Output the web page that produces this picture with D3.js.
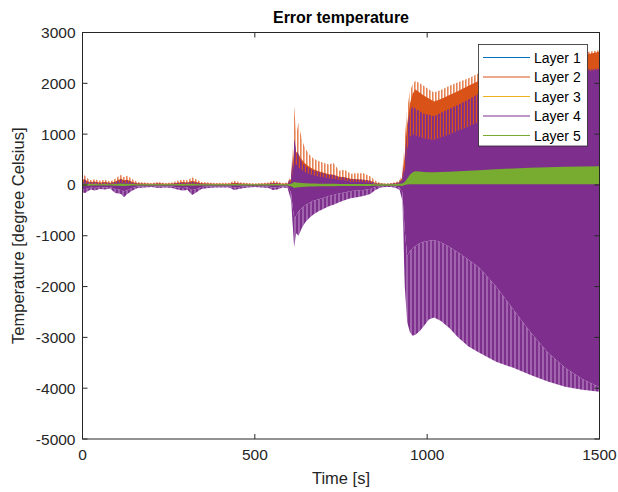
<!DOCTYPE html>
<html><head><meta charset="utf-8">
<script src="https://cdn.jsdelivr.net/npm/d3@7"></script>
<style>body{margin:0;background:#fff}svg{display:block}text{font-family:"Liberation Sans",Arial,sans-serif}</style>
</head><body><svg id="c" width="618" height="492"></svg>
<script>
// ---- data (envelopes) ----
const time = [0,8,16,25,35,50,65,80,95,105,112,120,130,145,160,180,200,220,240,260,275,290,305,318,330,345,365,385,405,425,440,460,480,500,520,540,552,565,580,595,
 605,610,614,620,627,636,646,658,670,685,700,715,728,745,760,778,796,815,835,850,865,880,895,910,920,
 928,935,942,950,958,966,978,990,1005,1020,1040,1065,1090,1120,1150,1200,1250,1300,1350,1400,1450,1500];
const orangeTip = [200,180,120,90,110,80,100,70,120,170,200,150,180,110,60,50,40,60,40,50,80,100,90,150,110,60,50,40,45,40,80,50,40,35,40,50,80,70,40,50,
 200,700,1550,1000,1230,900,720,600,520,470,430,400,430,280,300,220,230,230,170,80,40,30,40,60,90,
 250,900,1500,1850,1980,2050,2000,1950,1880,1820,1870,1950,2020,2100,2200,2290,2370,2440,2500,2550,2600,2650];
const orangeHi = [110,100,70,60,70,50,60,45,70,100,120,90,100,60,35,30,25,35,25,30,45,60,50,80,60,35,30,25,25,25,45,30,25,20,25,30,45,40,25,30,
 120,400,750,650,600,500,420,360,310,270,240,210,200,160,150,120,110,100,80,40,25,20,25,40,60,
 150,600,1200,1600,1800,1880,1820,1760,1700,1640,1690,1770,1850,1950,2050,2180,2280,2360,2430,2490,2550,2620];
const purpleHiTip = [120,100,60,50,60,40,50,40,60,90,110,80,90,50,30,25,20,30,20,25,40,50,45,70,50,30,25,20,20,20,35,25,20,20,20,25,40,35,20,25,
 150,500,900,700,600,450,380,330,290,260,230,200,200,150,150,110,110,100,80,40,25,20,25,40,60,
 150,500,1100,1450,1550,1500,1450,1400,1380,1350,1420,1500,1580,1680,1800,1950,2060,2130,2190,2230,2260,2290];
const purpleHi = [50,45,30,25,30,20,25,20,30,45,55,40,45,25,15,12,10,15,10,12,20,25,22,35,25,15,12,10,10,10,18,12,10,10,10,12,20,18,10,12,
 60,250,450,400,350,300,250,220,190,170,150,130,120,100,90,70,65,60,45,25,15,12,15,25,40,
 100,300,700,950,1000,980,950,920,900,890,940,1000,1070,1150,1250,1500,1750,1950,2080,2170,2230,2270];
const purpleLo = [-90,-80,-70,-50,-60,-40,-50,-40,-80,-90,-100,-130,-100,-60,-30,-25,-20,-30,-25,-30,-50,-60,-50,-100,-80,-40,-30,-25,-25,-25,-50,-35,-25,-20,-25,-30,-50,-45,-25,-30,
 -150,-450,-650,-600,-520,-460,-400,-350,-310,-280,-250,-220,-200,-170,-150,-120,-110,-100,-80,-40,-25,-20,-20,-30,-50,
 -150,-900,-1400,-1300,-1250,-1200,-1150,-1120,-1100,-1090,-1130,-1220,-1330,-1470,-1620,-2000,-2450,-2900,-3300,-3600,-3820,-3980];
const purpleTip = [-150,-160,-120,-90,-110,-80,-90,-70,-160,-170,-180,-240,-180,-110,-60,-50,-40,-60,-50,-60,-90,-110,-100,-200,-150,-80,-60,-50,-50,-50,-100,-70,-50,-40,-50,-60,-100,-90,-50,-60,
 -300,-800,-1230,-950,-1000,-850,-740,-650,-580,-520,-470,-420,-390,-340,-300,-260,-240,-220,-180,-100,-50,-40,-40,-60,-100,
 -300,-2000,-2700,-2900,-2970,-2950,-2880,-2780,-2650,-2610,-2680,-2820,-3000,-3180,-3300,-3480,-3600,-3740,-3870,-3970,-4030,-4070];
const greenHi = [25,25,20,20,20,15,20,15,20,25,30,25,25,20,15,15,15,15,15,15,20,20,20,25,20,15,15,15,15,15,20,15,15,15,15,15,20,20,15,15,
 25,40,60,50,45,40,35,30,30,25,25,25,25,20,20,20,20,20,20,15,15,15,15,20,25,
 30,60,120,200,250,270,265,255,250,250,255,260,270,280,290,310,325,340,350,360,365,370];
const greenLo = [-15,-15,-15,-12,-12,-10,-12,-10,-15,-15,-20,-20,-15,-12,-10,-10,-10,-10,-10,-10,-12,-15,-12,-15,-12,-10,-10,-10,-10,-10,-12,-10,-10,-10,-10,-10,-12,-12,-10,-10,
 -25,-40,-60,-50,-45,-40,-35,-30,-30,-25,-25,-25,-25,-20,-20,-20,-20,-20,-20,-15,-15,-15,-15,-15,-15,
 -20,0,10,15,15,15,15,15,15,15,15,15,15,15,15,15,15,15,15,15,15,15];
const timeSmall = [0,300,600,615,900,930,945,1000,1500];
const layer1Hi = [20,15,15,100,15,40,300,600,1200];
const layer1Lo = [-20,-15,-15,-100,-15,-40,-300,-600,-1200];
const layer3Hi = [30,12,12,120,12,50,350,550,1100];
const layer3Lo = [-30,-12,-12,-120,-12,-50,-350,-550,-1100];
const layerNames = ["Layer 1","Layer 2","Layer 3","Layer 4","Layer 5"];
const xTicks = [0,500,1000,1500];
const yTicks = [-5000,-4000,-3000,-2000,-1000,0,1000,2000,3000];

// ---- chart ----
const colors = ["#0072BD","#D95319","#EDB120","#7E2F8E","#77AC30"];
const svg = d3.select("#c");
const L = 82.5, R = 599.5, T = 32.5, B = 439;
const x = d3.scaleLinear().domain([0,1500]).range([L,R]);
const y = d3.scaleLinear().domain([-5000,3000]).range([B,T]);

const defs = svg.append("defs");
defs.append("clipPath").attr("id","clip").append("rect")
  .attr("x",L).attr("y",T).attr("width",R-L).attr("height",B-T);
function stripes(id, w, bg, fg, fw){
  const p = defs.append("pattern").attr("id",id).attr("patternUnits","userSpaceOnUse")
    .attr("width",w).attr("height",20);
  if(bg) p.append("rect").attr("width",w).attr("height",20).attr("fill",bg);
  p.append("rect").attr("width",fw).attr("height",20).attr("fill",fg);
}
stripes("pOr", 3, null, "#e68456", 1.6);
stripes("pPuUp", 3, null, "#7E2F8E", 1.8);
stripes("pPuLo", 4, "#a064ad", "#7E2F8E", 2);

const g = svg.append("g").attr("clip-path","url(#clip)");
function band(t, lo, hi){
  return d3.area().x((d,i)=>x(t[i])).y0((d,i)=>y(lo[i])).y1((d,i)=>y(hi[i]))(t);
}
const zeros = time.map(()=>0);
// Layer 1 (blue)
g.append("path").attr("d",band(timeSmall,layer1Lo,layer1Hi)).attr("fill",colors[0]);
// Layer 2 (orange)
g.append("path").attr("d",band(time,zeros,orangeTip)).attr("fill","url(#pOr)");
g.append("path").attr("d",band(time,zeros,orangeHi)).attr("fill",colors[1]);
// Layer 3 (yellow)
g.append("path").attr("d",band(timeSmall,layer3Lo,layer3Hi)).attr("fill",colors[2]);
// Layer 4 (purple)
g.append("path").attr("d",band(time,purpleHi,purpleHiTip)).attr("fill","url(#pPuUp)");
g.append("path").attr("d",band(time,purpleTip,purpleLo)).attr("fill","url(#pPuLo)");
g.append("path").attr("d",band(time,purpleLo,purpleHi)).attr("fill",colors[3]);
// Layer 5 (green)
g.append("path").attr("d",band(time,greenLo,greenHi)).attr("fill",colors[4]);

// axes box and ticks
const axCol = "#262626";
const ax = svg.append("g").attr("stroke",axCol).attr("stroke-width",1).attr("fill","none");
ax.append("rect").attr("x",L).attr("y",T).attr("width",R-L).attr("height",B-T);
const tl = 5;
xTicks.forEach(v=>{
  ax.append("line").attr("x1",x(v)).attr("x2",x(v)).attr("y1",B).attr("y2",B-tl);
  ax.append("line").attr("x1",x(v)).attr("x2",x(v)).attr("y1",T).attr("y2",T+tl);
});
yTicks.forEach(v=>{
  ax.append("line").attr("x1",L).attr("x2",L+tl).attr("y1",y(v)).attr("y2",y(v));
  ax.append("line").attr("x1",R).attr("x2",R-tl).attr("y1",y(v)).attr("y2",y(v));
});
const fs = 15.5;
xTicks.forEach(v=>{
  svg.append("text").attr("x",x(v)).attr("y",B+21).attr("text-anchor","middle")
    .attr("font-size",fs).attr("fill",axCol).text(v);
});
yTicks.forEach(v=>{
  svg.append("text").attr("x",L-7).attr("y",y(v)+5.5).attr("text-anchor","end")
    .attr("font-size",fs).attr("fill",axCol).text(v);
});
svg.append("text").attr("x",(L+R)/2).attr("y",484).attr("text-anchor","middle")
  .attr("font-size",16.5).attr("fill",axCol).text("Time [s]");
svg.append("text").attr("transform",`translate(24,${(T+B)/2}) rotate(-90)`).attr("text-anchor","middle")
  .attr("font-size",16.5).attr("fill",axCol).text("Temperature [degree Celsius]");
svg.append("text").attr("x",(L+R)/2).attr("y",23).attr("text-anchor","middle")
  .attr("font-size",16).attr("font-weight","bold").attr("fill","#000").text("Error temperature");

// legend
const lg = svg.append("g");
lg.append("rect").attr("x",478.5).attr("y",44.5).attr("width",109).attr("height",101.5)
  .attr("fill","#fff").attr("stroke",axCol).attr("stroke-width",0.8);
layerNames.forEach((n,i)=>{
  const yy = 57.5 + i*19.5;
  lg.append("line").attr("x1",483).attr("x2",530).attr("y1",yy).attr("y2",yy)
    .attr("stroke",colors[i]).attr("stroke-width",1.2);
  lg.append("text").attr("x",534).attr("y",yy+5).attr("font-size",14).attr("fill","#000").text(n);
});
</script></body></html>
